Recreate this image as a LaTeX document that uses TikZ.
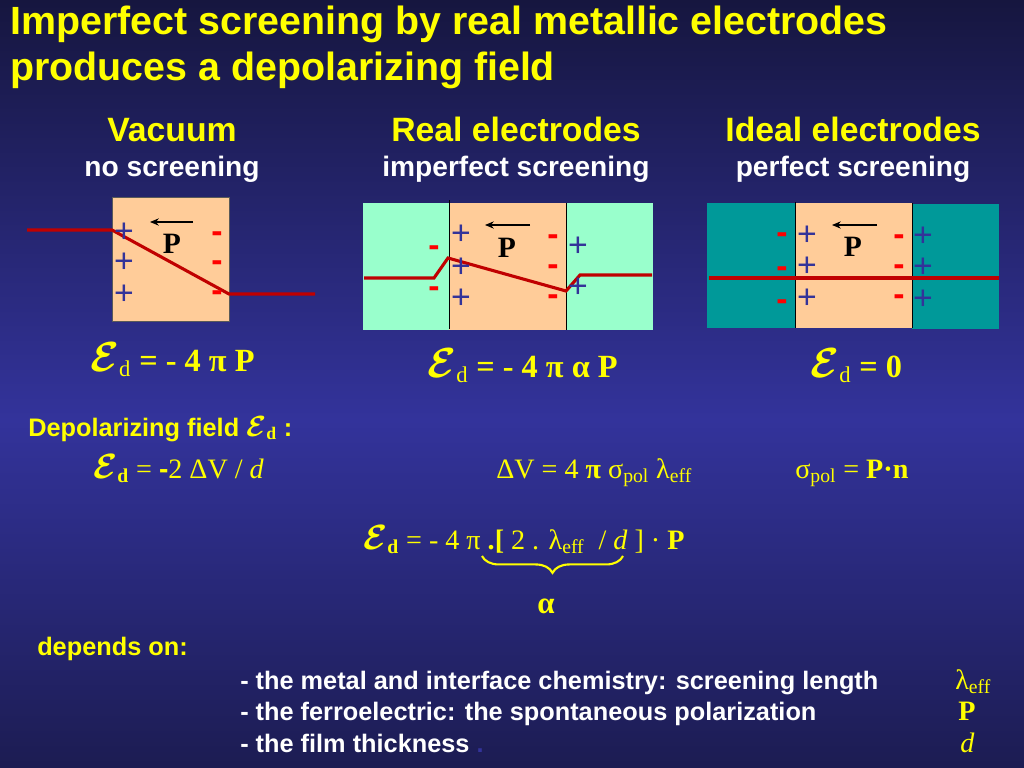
\documentclass[tikz,border=0pt]{standalone}
\usepackage{amsmath}
\usepackage{graphicx}
\usepackage{fontspec}
\setmainfont{Liberation Serif}
\setsansfont{Liberation Sans}
\usetikzlibrary{arrows.meta, calc, decorations.pathreplacing}
\definecolor{bgdark}{HTML}{16163F}
\definecolor{bgmid}{HTML}{33339B}
\definecolor{bglow}{HTML}{1C1C52}
\definecolor{ylw}{HTML}{FFFF00}
\definecolor{peach}{HTML}{FFCC99}
\definecolor{mint}{HTML}{99FFCC}
\definecolor{metalteal}{HTML}{009999}
\definecolor{potred}{HTML}{C00000}
\definecolor{plusblue}{HTML}{333399}
\definecolor{minusred}{HTML}{FF0000}
\newcommand{\Escr}{\scalebox{1.2}{$\boldsymbol{\mathcal{E}}$}}
\newcommand{\Ed}{\Escr\textsubscript{\mdseries d}}
\newcommand{\Edb}{\Escr\textsubscript{\bfseries d}}

\begin{document}
\begin{tikzpicture}[x=0.025cm, y=-0.025cm,
  >={Stealth[length=2.2mm, width=1.8mm]},
  title/.style={text=ylw, font=\sffamily\bfseries\fontsize{28}{32}\selectfont, inner sep=0pt, anchor=base west},
  heading/.style={text=ylw, font=\sffamily\bfseries\fontsize{24}{28}\selectfont, inner sep=0pt, anchor=base},
  subheading/.style={text=white, font=\sffamily\bfseries\fontsize{20}{24}\selectfont, inner sep=0pt, anchor=base},
  plus/.style={text=plusblue, font=\sffamily\fontsize{24}{24}\selectfont, inner sep=0pt},
  minus/.style={text=minusred, font=\sffamily\bfseries\fontsize{24}{24}\selectfont, inner sep=0pt},
  pol/.style={text=black, font=\bfseries\fontsize{21}{21}\selectfont, inner sep=0pt},
  field/.style={text=ylw, font=\bfseries\fontsize{23}{27}\selectfont, inner sep=0pt, anchor=base west},
  formula/.style={text=ylw, font=\fontsize{20}{24}\selectfont, inner sep=0pt, anchor=base west},
  label/.style={text=ylw, font=\sffamily\bfseries\fontsize{18}{22}\selectfont, inner sep=0pt, anchor=base west},
  item/.style={text=white, font=\sffamily\bfseries\fontsize{18}{22}\selectfont, inner sep=0pt, anchor=base west},
  potential/.style={potred, line width=2.2pt},
  interface/.style={black, line width=0.6pt}]

% Background
\useasboundingbox (0,0) rectangle (1024,768);
\shade[top color=bgdark, bottom color=bgmid] (0,0) rectangle (1024,420);
\shade[top color=bgmid, bottom color=bglow] (0,420) rectangle (1024,768);

% Title
\node[title] (title1) at (10,35) {Imperfect screening by real metallic electrodes};
\node[title] (title2) at (10,81) {produces a depolarizing field};

% ============================================================
% Column headings
% ============================================================
\node[heading] (vac) at (172,142) {Vacuum};
\node[subheading] (vac-sub) at (172,176) {no screening};
\node[heading] (real) at (516,142) {Real electrodes};
\node[subheading] (real-sub) at (516,176) {imperfect screening};
\node[heading] (ideal) at (853,142) {Ideal electrodes};
\node[subheading] (ideal-sub) at (853,176) {perfect screening};

% ============================================================
% Vacuum: no screening
% ============================================================
\filldraw[fill=peach, draw=gray!70!black, line width=0.6pt] (112,197) rectangle (229,321);
\draw[potential] (27,230) -- (112,230) -- (229,294) -- (315,294);
\foreach \y [count=\i] in {231,261,293}
  \node[plus] (vac-p\i) at (124,\y+2) {+};
\foreach \y [count=\i] in {234,263,293}
  \node[minus] (vac-m\i) at (217,\y+3) {-};
\coordinate (vac-arrs) at (193,222);
\coordinate (vac-arre) at (150,222);
\draw[->, line width=0.8pt] (vac-arrs) -- (vac-arre);
\node[pol] (vac-P) at (172,244) {P};
\node[field] (vac-ed) at (90,371) {\Ed{} = - 4 π P};

% ============================================================
% Real electrodes: imperfect screening
% ============================================================
\fill[mint] (363,203) rectangle (449,330);
\fill[peach] (449,203) rectangle (566,330);
\fill[mint] (566,203) rectangle (653,330);
\draw[interface] (449,200) -- (449,329);
\draw[interface] (566,203) -- (566,330);
\draw[potential] (364,278) -- (434,278) -- (448,258) -- (566,291) -- (580,275) -- (652,275);
\foreach \y [count=\i] in {233,266,297}
  \node[plus] (real-p\i) at (461,\y+2) {+};
\foreach \y [count=\i] in {248,289}
  \node[minus] (real-ml\i) at (434,\y+3) {-};
\foreach \y [count=\i] in {237,267,297}
  \node[minus] (real-m\i) at (553,\y+3) {-};
\foreach \y [count=\i] in {245,286}
  \node[plus] (real-pr\i) at (578,\y+2) {+};
\coordinate (real-arrs) at (530,225);
\coordinate (real-arre) at (485,225);
\draw[->, line width=0.8pt] (real-arrs) -- (real-arre);
\node[pol] (real-P) at (507,248) {P};
\node[field] (real-ed) at (427,377) {\Ed{} = - 4 π α P};

% ============================================================
% Ideal electrodes: perfect screening
% ============================================================
\fill[metalteal] (707,203) rectangle (795,328);
\fill[peach] (795,203) rectangle (912,328);
\fill[metalteal] (912,204) rectangle (999,329);
\draw[interface] (795,202) -- (795,328);
\draw[interface] (912,203) -- (912,328);
\draw[potential] (709,278) -- (999,278);
\foreach \y [count=\i] in {235,269,302}
  \node[minus] (ideal-ml\i) at (782,\y+3) {-};
\foreach \y [count=\i] in {234,265,297}
  \node[plus] (ideal-p\i) at (807,\y+2) {+};
\foreach \y [count=\i] in {237,267,297}
  \node[minus] (ideal-m\i) at (899,\y+3) {-};
\foreach \y [count=\i] in {235,266,298}
  \node[plus] (ideal-pr\i) at (923,\y+2) {+};
\coordinate (ideal-arrs) at (877,225);
\coordinate (ideal-arre) at (832,225);
\draw[->, line width=0.8pt] (ideal-arrs) -- (ideal-arre);
\node[pol] (ideal-P) at (853,247) {P};
\node[field] (ideal-ed) at (810,377) {\Ed{} = 0};

% ============================================================
% Depolarizing field
% ============================================================
\node[label] (depol) at (28,436) {Depolarizing field {\rmfamily\Edb} :};
\node[formula] (ed-dv) at (93,478) {\Edb{} = {\sffamily\bfseries -}2 ΔV / \textit{d}};
\node[formula] (dv) at (496,478) {ΔV = 4 \textbf{π} σ\textsubscript{pol} λ\textsubscript{eff}};
\node[formula] (sigma) at (795,478) {σ\textsubscript{pol} = \textbf{P·n}};

\node[formula] (ed-full) at (363,549) {\Edb{} = - 4 π \textbf{.[} 2 . λ\textsubscript{eff} \ / \textit{d} ] · \textbf{P}};
\coordinate (brace-l) at (482,556);
\coordinate (brace-r) at (623,556);
\draw[ylw, line width=1.5pt, decorate, decoration={brace, mirror, amplitude=12pt}] (brace-l) -- (brace-r);
\node[formula, anchor=center, font=\bfseries\fontsize{22}{24}\selectfont] (alpha) at (546,606) {α};

% ============================================================
% Dependencies
% ============================================================
\node[label] (depends) at (37,655) {depends on:};
\node[item] (item1) at (240,689) {- the metal and interface chemistry: screening length};
\node[item] (item2) at (240,720) {- the ferroelectric: the spontaneous polarization};
\node[item] (item3) at (240,752) {- the film thickness {\color{bgmid}.}};
\node[formula] (sym1) at (955,689) {λ\textsubscript{eff}};
\node[formula] (sym2) at (958,720) {\textbf{P}};
\node[formula] (sym3) at (960,752) {\textit{d}};

\end{tikzpicture}
\end{document}
